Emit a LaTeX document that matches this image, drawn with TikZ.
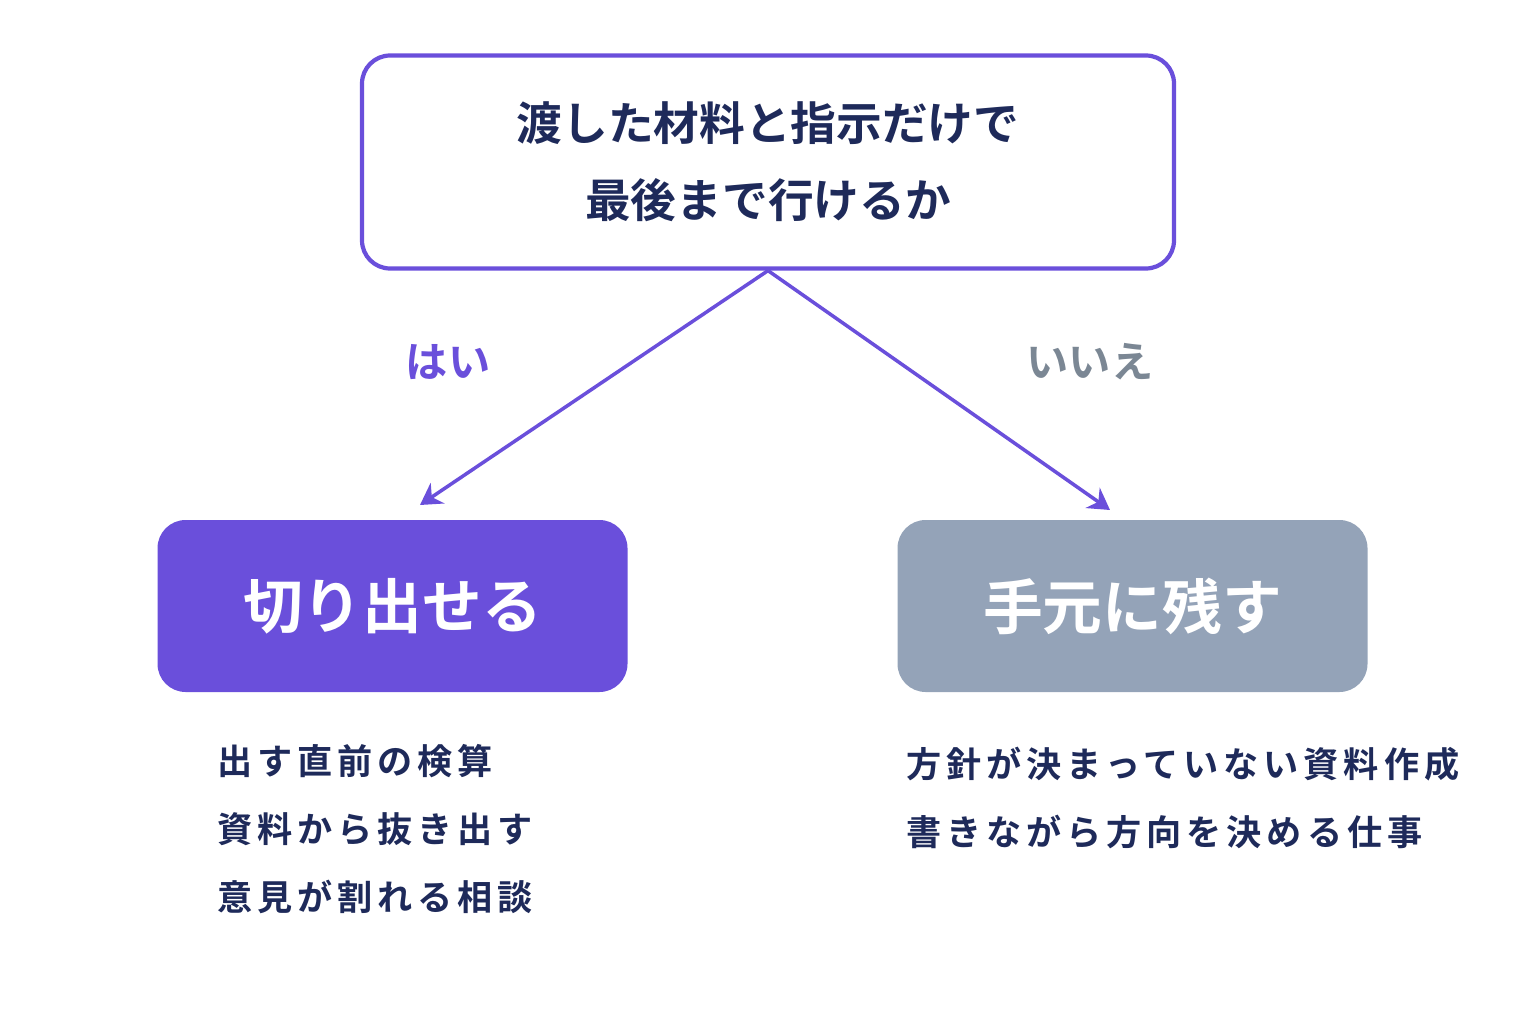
\documentclass[tikz,border=0pt]{standalone}
\usepackage{fontspec}
\setmainfont{Noto Sans CJK JP}[BoldFont={* Bold}]
\newfontfamily\jpitem{Noto Sans CJK JP}[BoldFont={* Bold},LetterSpace=14]
\usetikzlibrary{positioning,arrows.meta}
\definecolor{navy}{HTML}{1E2A5A}
\definecolor{violet}{HTML}{6A4FDB}
\definecolor{slate}{HTML}{94A3B8}
\definecolor{slatetext}{HTML}{7B8794}
\tikzset{
  question/.style={draw=violet, line width=1.2pt, rounded corners=8pt, fill=white,
    minimum width=8.12cm, minimum height=2.13cm, align=center,
    font=\fontsize{13pt}{22pt}\selectfont\bfseries, text=navy},
  result/.style={rounded corners=8pt, minimum width=4.7cm, minimum height=1.72cm,
    font=\fontsize{17pt}{20pt}\selectfont\bfseries, text=white},
  branch/.style={font=\fontsize{12pt}{14pt}\selectfont\bfseries},
  items/.style={anchor=north west, align=left, text=navy,
    font=\jpitem\fontsize{10pt}{19.3pt}\selectfont\bfseries},
  link/.style={draw=violet, line width=1pt, -{Stealth[length=6pt,width=7pt]}}
}
\begin{document}
\begin{tikzpicture}
  \useasboundingbox (0,0) rectangle (15.36,10.24);
  \node[question] (q) at (7.68,8.62) {渡した材料と指示だけで\\最後まで行けるか};
  \node[result, fill=violet] (yes) at (3.925,4.18) {切り出せる};
  \node[result, fill=slate] (no) at (11.325,4.18) {手元に残す};
  \coordinate (yesend) at (4.2,5.19);
  \coordinate (noend) at (11.1,5.14);
  \draw[link] (q.south) -- (yesend);
  \draw[link] (q.south) -- (noend);
  \node[branch, text=violet] (yeslbl) at (4.48,6.62) {はい};
  \node[branch, text=slatetext] (nolbl) at (10.9,6.62) {いいえ};
  \node[items] (yesitems) at (2.05,2.92) {出す直前の検算\\資料から抜き出す\\意見が割れる相談};
  \node[items] (noitems) at (8.94,2.89) {方針が決まっていない資料作成\\書きながら方向を決める仕事};
\end{tikzpicture}
\end{document}
